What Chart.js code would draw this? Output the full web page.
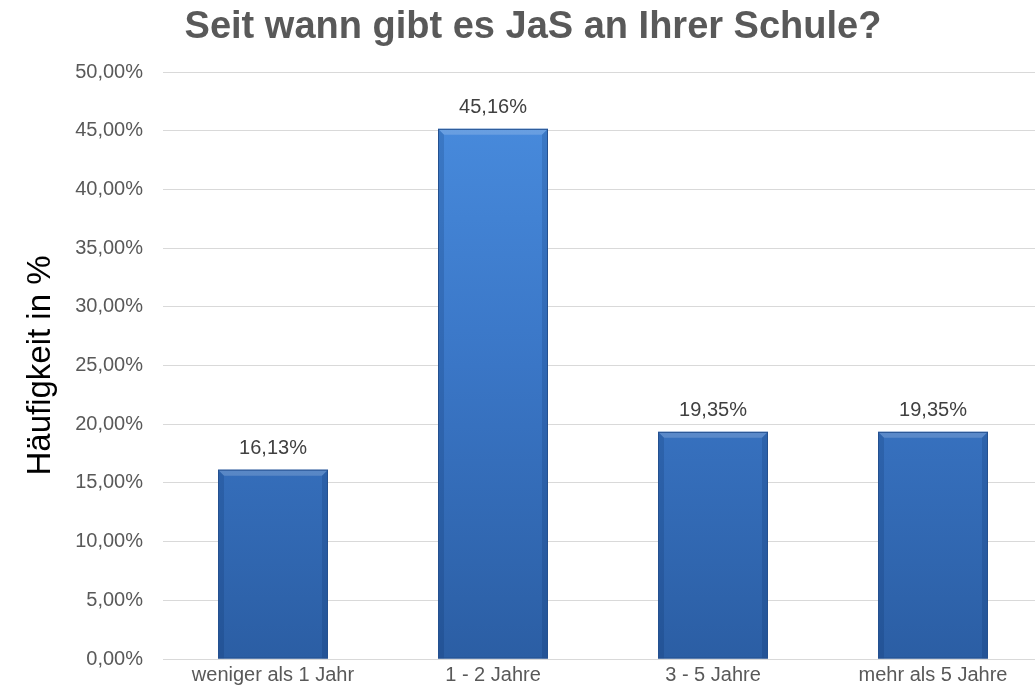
<!DOCTYPE html>
<html>
<head>
<meta charset="utf-8">
<script src="https://cdn.jsdelivr.net/npm/chart.js@4"></script>
<style>
  html, body { margin: 0; padding: 0; background: #fff; overflow: hidden; }
  #wrap { width: 1043px; height: 694px; }
</style>
</head>
<body>
<div id="wrap"><canvas id="myChart"></canvas></div>
<script>
const categories = ['weniger als 1 Jahr', '1 - 2 Jahre', '3 - 5 Jahre', 'mehr als 5 Jahre'];
const shares = [16.13, 45.16, 19.35, 19.35];
const yMax = 50;
const yStep = 5;
const chartTitle = 'Seit wann gibt es JaS an Ihrer Schule?';
const axisTitle = 'Häufigkeit in %';

const FONT = '"Liberation Sans", Arial, sans-serif';
const fmt = v => v.toFixed(2).replace('.', ',') + '%';

// vertical blue gradient per bar
function barFill(context) {
  const chart = context.chart;
  const area = chart.chartArea;
  if (!area) return '#3a75c4';
  const g = chart.ctx.createLinearGradient(0, area.top, 0, area.bottom);
  g.addColorStop(0, '#4a8ee0');
  g.addColorStop(0.5, '#3a76c6');
  g.addColorStop(1, '#2b5ea4');
  return g;
}

// title drawn a bit right of canvas centre, like the original
const titlePlugin = {
  id: 'titlePlugin',
  beforeDraw(chart) {
    const ctx = chart.ctx;
    ctx.save();
    ctx.fillStyle = '#595959';
    ctx.font = 'bold 38px ' + FONT;
    ctx.textAlign = 'center';
    ctx.textBaseline = 'alphabetic';
    ctx.fillText(chartTitle, 533, 38);
    ctx.restore();
  }
};

// bevel edges + value labels above bars
const barExtras = {
  id: 'barExtras',
  afterDatasetsDraw(chart) {
    const ctx = chart.ctx;
    const meta = chart.getDatasetMeta(0);
    meta.data.forEach((bar, i) => {
      const left = bar.x - bar.width / 2, right = bar.x + bar.width / 2;
      const top = bar.y, bottom = bar.base;
      const b = 6;
      ctx.save();
      ctx.fillStyle = 'rgba(255,255,255,0.18)';
      ctx.beginPath();
      ctx.moveTo(left, top); ctx.lineTo(right, top);
      ctx.lineTo(right - b, top + b); ctx.lineTo(left + b, top + b);
      ctx.closePath(); ctx.fill();
      ctx.fillStyle = 'rgba(0,30,80,0.16)';
      ctx.beginPath();
      ctx.moveTo(left, top); ctx.lineTo(left + b, top + b);
      ctx.lineTo(left + b, bottom); ctx.lineTo(left, bottom);
      ctx.closePath(); ctx.fill();
      ctx.beginPath();
      ctx.moveTo(right, top); ctx.lineTo(right - b, top + b);
      ctx.lineTo(right - b, bottom); ctx.lineTo(right, bottom);
      ctx.closePath(); ctx.fill();
      ctx.strokeStyle = '#24508f';
      ctx.lineWidth = 1;
      ctx.strokeRect(left + 0.5, top + 0.5, bar.width - 1, bottom - top - 1);
      ctx.fillStyle = '#404040';
      ctx.font = '20px ' + FONT;
      ctx.textAlign = 'center';
      ctx.textBaseline = 'middle';
      ctx.fillText(fmt(shares[i]), bar.x, top - 21);
      ctx.restore();
    });
  }
};

new Chart(document.getElementById('myChart'), {
  type: 'bar',
  data: {
    labels: categories,
    datasets: [{
      data: shares,
      backgroundColor: barFill,
      borderWidth: 0,
      barPercentage: 0.5,
      categoryPercentage: 1.0
    }]
  },
  options: {
    responsive: true,
    maintainAspectRatio: false,
    animation: false,
    layout: { padding: { top: 72, right: 0, bottom: 3, left: 0 } },
    plugins: {
      legend: { display: false },
      tooltip: { enabled: false },
      title: { display: false }
    },
    scales: {
      x: {
        grid: { display: false, drawTicks: false },
        border: { color: '#d9d9d9' },
        ticks: {
          color: '#595959',
          padding: 4,
          font: { family: FONT, size: 20 }
        }
      },
      y: {
        min: 0,
        max: yMax,
        afterFit(scale) { scale.width = 163; },
        grid: { color: '#d9d9d9', drawTicks: false },
        border: { display: false },
        ticks: {
          stepSize: yStep,
          padding: 20,
          color: '#595959',
          font: { family: FONT, size: 20 },
          callback: v => fmt(v)
        },
        title: {
          display: true,
          text: axisTitle,
          color: '#000000',
          padding: { top: 21, bottom: 0 },
          font: { family: FONT, size: 33 }
        }
      }
    }
  },
  plugins: [titlePlugin, barExtras]
});
</script>
</body>
</html>
